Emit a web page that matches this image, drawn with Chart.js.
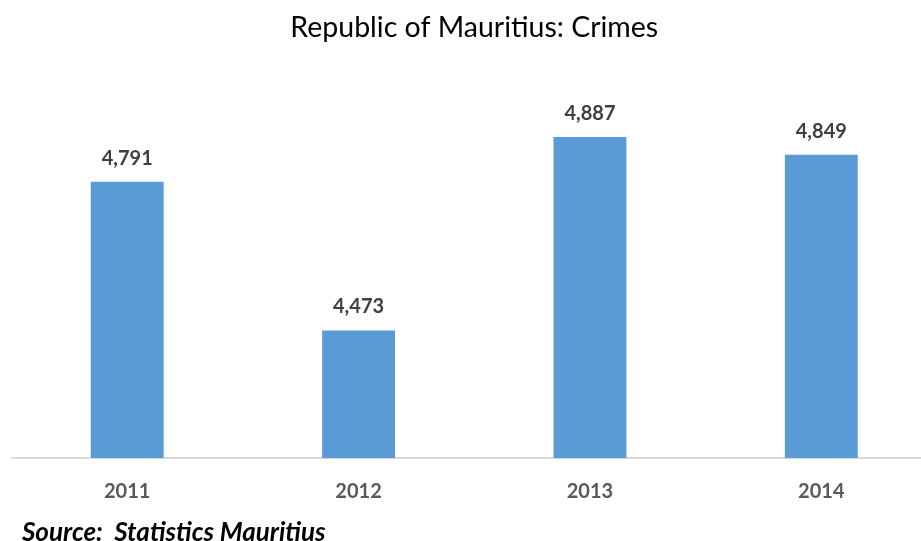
<!DOCTYPE html>
<html>
<head>
<meta charset="utf-8">
<script src="https://cdn.jsdelivr.net/npm/chart.js@4.4.0/dist/chart.umd.min.js"></script>
<style>
  html, body { margin: 0; padding: 0; background: #fff; overflow: hidden; width: 921px; height: 541px; }
  #wrap { position: absolute; left: 0; top: 0; width: 937px; height: 541px; }
  #source { position: absolute; left: 22px; top: 515px; font: italic bold 26px Lato, sans-serif; color: #000; white-space: pre; }
</style>
</head>
<body>
<div id="wrap"><canvas id="crimeChart"></canvas></div>
<div id="source">Source:  Statistics Mauritius</div>
<script>
var years = ['2011', '2012', '2013', '2014'];
var crimes = [4791, 4473, 4887, 4849];

// draws the value above each bar
const valueLabels = {
    id: 'valueLabels',
    afterDatasetsDraw(chart) {
        const ctx = chart.ctx;
        const meta = chart.getDatasetMeta(0);
        ctx.save();
        ctx.font = 'bold 20px Lato, sans-serif';
        ctx.fillStyle = '#404040';
        ctx.textAlign = 'center';
        ctx.textBaseline = 'alphabetic';
        meta.data.forEach((bar, i) => {
            ctx.fillText(crimes[i].toLocaleString('en-US'), bar.x, bar.y - 17);
        });
        ctx.restore();
    }
};

const ctx = document.getElementById('crimeChart').getContext('2d');
const crimeChart = new Chart(ctx, {
    type: 'bar',
    data: {
        labels: years,
        datasets: [{
            label: 'Crimes',
            data: crimes,
            backgroundColor: '#5b9bd5',
            barPercentage: 0.315,
            categoryPercentage: 1
        }]
    },
    options: {
        responsive: true,
        maintainAspectRatio: false,
        animation: false,
        layout: {
            padding: { left: 11.5, right: 0, top: 0, bottom: 23 }
        },
        plugins: {
            legend: { display: false },
            tooltip: { enabled: false },
            title: {
                display: true,
                text: 'Republic of Mauritius: Crimes',
                color: '#000',
                font: { family: 'Lato, sans-serif', size: 28.5, weight: 'normal' },
                padding: { top: 11, bottom: 39 }
            }
        },
        scales: {
            x: {
                grid: { display: false },
                border: { color: '#d9d9d9', width: 2 },
                ticks: {
                    color: '#595959',
                    padding: 14,
                    font: { family: 'Lato, sans-serif', size: 20, weight: 'bold' }
                }
            },
            y: {
                display: false,
                min: 4200,
                max: 5000
            }
        }
    },
    plugins: [valueLabels]
});
</script>
</body>
</html>
